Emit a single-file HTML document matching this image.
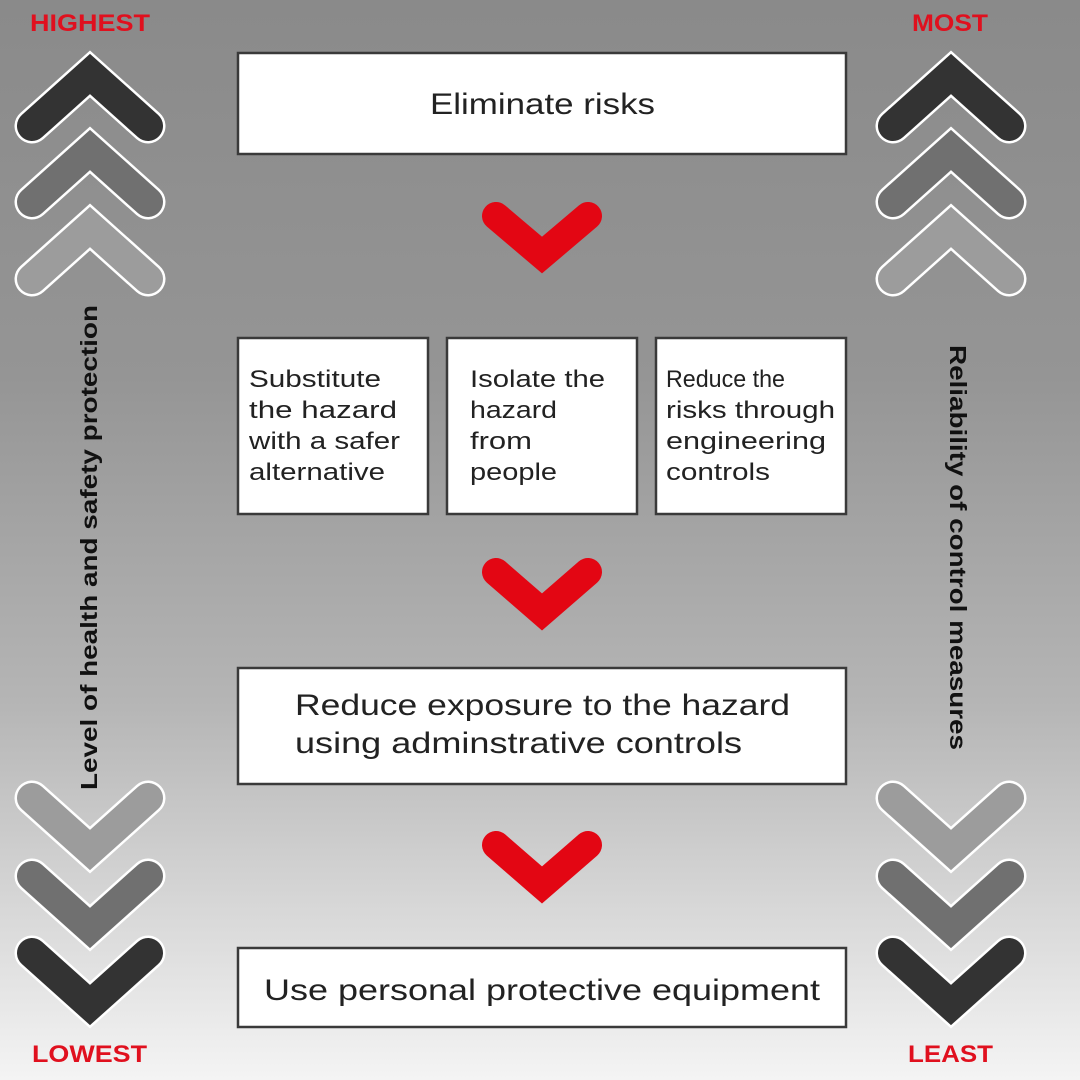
<!DOCTYPE html>
<html><head><meta charset="utf-8"><style>
html,body{margin:0;padding:0;width:1080px;height:1080px;overflow:hidden}
svg{display:block}
text{font-family:"Liberation Sans",sans-serif}
</style></head><body>
<svg width="1080" height="1080" viewBox="0 0 1080 1080" xmlns="http://www.w3.org/2000/svg">
<defs>
<linearGradient id="bg" x1="0" y1="0" x2="0" y2="1">
<stop offset="0" stop-color="#8a8a8a"/>
<stop offset="0.35" stop-color="#959595"/>
<stop offset="0.65" stop-color="#b5b5b5"/>
<stop offset="1" stop-color="#f4f4f4"/>
</linearGradient>
</defs>
<rect width="1080" height="1080" fill="url(#bg)"/>

<g fill="none" stroke-linecap="round" stroke-linejoin="miter">
<g>
<polyline points="32,126 90,74 148,126" stroke="#fff" stroke-width="35"/>
<polyline points="32,126 90,74 148,126" stroke="#333" stroke-width="30"/>
<polyline points="32,202 90,150 148,202" stroke="#fff" stroke-width="35"/>
<polyline points="32,202 90,150 148,202" stroke="#707070" stroke-width="30"/>
<polyline points="32,279 90,227 148,279" stroke="#fff" stroke-width="35"/>
<polyline points="32,279 90,227 148,279" stroke="#9c9c9c" stroke-width="30"/>
</g>
<g transform="translate(861,0)">
<polyline points="32,126 90,74 148,126" stroke="#fff" stroke-width="35"/>
<polyline points="32,126 90,74 148,126" stroke="#333" stroke-width="30"/>
<polyline points="32,202 90,150 148,202" stroke="#fff" stroke-width="35"/>
<polyline points="32,202 90,150 148,202" stroke="#707070" stroke-width="30"/>
<polyline points="32,279 90,227 148,279" stroke="#fff" stroke-width="35"/>
<polyline points="32,279 90,227 148,279" stroke="#9c9c9c" stroke-width="30"/>
</g>
<g>
<polyline points="32,798 90,850 148,798" stroke="#fff" stroke-width="35"/>
<polyline points="32,798 90,850 148,798" stroke="#9c9c9c" stroke-width="30"/>
<polyline points="32,876 90,928 148,876" stroke="#fff" stroke-width="35"/>
<polyline points="32,876 90,928 148,876" stroke="#707070" stroke-width="30"/>
<polyline points="32,953 90,1005 148,953" stroke="#fff" stroke-width="35"/>
<polyline points="32,953 90,1005 148,953" stroke="#333" stroke-width="30"/>
</g>
<g transform="translate(861,0)">
<polyline points="32,798 90,850 148,798" stroke="#fff" stroke-width="35"/>
<polyline points="32,798 90,850 148,798" stroke="#9c9c9c" stroke-width="30"/>
<polyline points="32,876 90,928 148,876" stroke="#fff" stroke-width="35"/>
<polyline points="32,876 90,928 148,876" stroke="#707070" stroke-width="30"/>
<polyline points="32,953 90,1005 148,953" stroke="#fff" stroke-width="35"/>
<polyline points="32,953 90,1005 148,953" stroke="#333" stroke-width="30"/>
</g>
<polyline points="496,216 542,255 588,216" stroke="#e30613" stroke-width="28"/>
<polyline points="496,572 542,612 588,572" stroke="#e30613" stroke-width="28"/>
<polyline points="496,845 542,885 588,845" stroke="#e30613" stroke-width="28"/>
</g>

<g font-weight="bold" font-size="24" fill="#e0101e" lengthAdjust="spacingAndGlyphs">
<text x="30" y="31" textLength="120" lengthAdjust="spacingAndGlyphs">HIGHEST</text>
<text x="912" y="31" textLength="76" lengthAdjust="spacingAndGlyphs">MOST</text>
<text x="32" y="1062" textLength="115" lengthAdjust="spacingAndGlyphs">LOWEST</text>
<text x="908" y="1062" textLength="85" lengthAdjust="spacingAndGlyphs">LEAST</text>
</g>
<text transform="translate(97,790) rotate(-90)" font-weight="bold" font-size="23" fill="#111" textLength="485" lengthAdjust="spacingAndGlyphs">Level of health and safety protection</text>
<text transform="translate(950,345) rotate(90)" font-weight="bold" font-size="23" fill="#111" textLength="405" lengthAdjust="spacingAndGlyphs">Reliability of control measures</text>

<g fill="#fff" stroke="#3a3a3a" stroke-width="2.5">
<rect x="238" y="53" width="608" height="101"/>
<rect x="238" y="338" width="190" height="176"/>
<rect x="447" y="338" width="190" height="176"/>
<rect x="656" y="338" width="190" height="176"/>
<rect x="238" y="668" width="608" height="116"/>
<rect x="238" y="948" width="608" height="79"/>
</g>
<g fill="#222" font-size="24">
<text x="430" y="114" font-size="30" textLength="225" lengthAdjust="spacingAndGlyphs">Eliminate risks</text>
<text x="249" y="387" textLength="132" lengthAdjust="spacingAndGlyphs">Substitute</text>
<text x="249" y="418" textLength="148" lengthAdjust="spacingAndGlyphs">the hazard</text>
<text x="249" y="449" textLength="151" lengthAdjust="spacingAndGlyphs">with a safer</text>
<text x="249" y="480" textLength="136" lengthAdjust="spacingAndGlyphs">alternative</text>
<text x="470" y="387" textLength="135" lengthAdjust="spacingAndGlyphs">Isolate the</text>
<text x="470" y="418" textLength="87" lengthAdjust="spacingAndGlyphs">hazard</text>
<text x="470" y="449" textLength="62" lengthAdjust="spacingAndGlyphs">from</text>
<text x="470" y="480" textLength="87" lengthAdjust="spacingAndGlyphs">people</text>
<text x="666" y="387" textLength="119" lengthAdjust="spacingAndGlyphs">Reduce the</text>
<text x="666" y="418" textLength="169" lengthAdjust="spacingAndGlyphs">risks through</text>
<text x="666" y="449" textLength="160" lengthAdjust="spacingAndGlyphs">engineering</text>
<text x="666" y="480" textLength="104" lengthAdjust="spacingAndGlyphs">controls</text>
<text x="295" y="715" font-size="30" textLength="495" lengthAdjust="spacingAndGlyphs">Reduce exposure to the hazard</text>
<text x="295" y="753" font-size="30" textLength="447" lengthAdjust="spacingAndGlyphs">using adminstrative controls</text>
<text x="264" y="1000" font-size="30" textLength="556" lengthAdjust="spacingAndGlyphs">Use personal protective equipment</text>
</g>
</svg>
</body></html>
